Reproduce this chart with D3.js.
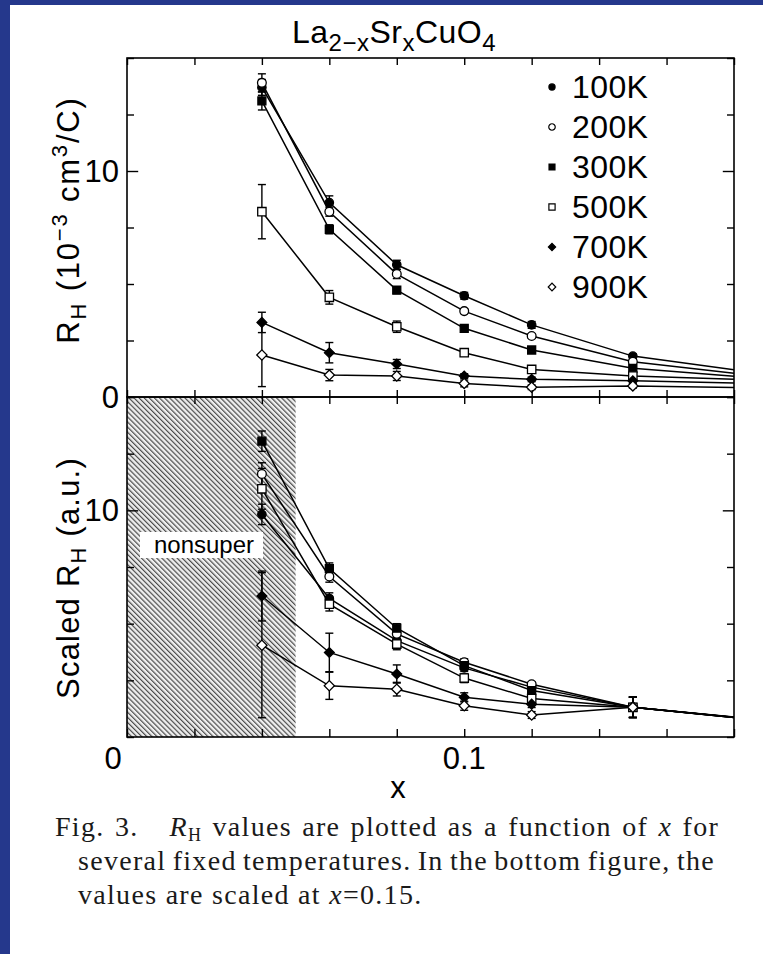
<!DOCTYPE html>
<html>
<head>
<meta charset="utf-8">
<script src="https://cdn.jsdelivr.net/npm/d3@7"></script>
<style>
  body { margin: 0; background: #fff; }
  svg { display: block; }
</style>
</head>
<body>
<script>
// temperatures and doping values
var temps = ["100K", "200K", "300K", "500K", "700K", "900K"];
var xValues = [0.04, 0.06, 0.08, 0.10, 0.12, 0.15, 0.18];

// top panel: R_H (1e-3 cm3/C)
var rh100 = [13.7, 8.6, 5.85, 4.48, 3.19, 1.81, 1.2];
var rh200 = [13.9, 8.2, 5.44, 3.8, 2.7, 1.56, 1.05];
var rh300 = [13.1, 7.42, 4.73, 3.04, 2.08, 1.27, 0.92];
var rh500 = [8.2, 4.41, 3.11, 1.96, 1.22, 0.93, 0.78];
var rh700 = [3.3, 1.96, 1.46, 0.93, 0.78, 0.72, 0.62];
var rh900 = [1.86, 0.97, 0.93, 0.6, 0.43, 0.49, 0.42];
var err100 = [0.35, 0.3, 0.2, 0.15, 0.15, 0.1, 0];
var err200 = [0.4, 0.2, 0.2, 0.1, 0.1, 0.1, 0];
var err300 = [0.4, 0.2, 0.15, 0.1, 0.1, 0.1, 0];
var err500 = [1.2, 0.3, 0.25, 0.15, 0.1, 0.1, 0];
var err700 = [0.45, 0.45, 0.2, 0.1, 0.1, 0.1, 0];
var err900 = [1.4, 0.25, 0.2, 0.15, 0.1, 0.1, 0];

// bottom panel: scaled R_H (a.u.)
var sc100 = [9.82, 6.11, 4.25, 3.05, 2.2, 1.31, 0.87];
var sc200 = [11.6, 7.08, 4.55, 3.3, 2.33, 1.31, 0.87];
var sc300 = [13.05, 7.43, 4.8, 3.15, 2.05, 1.31, 0.88];
var sc500 = [10.95, 5.86, 4.1, 2.6, 1.7, 1.31, 0.86];
var sc700 = [6.22, 3.73, 2.78, 1.75, 1.45, 1.31, 0.86];
var sc900 = [4.05, 2.26, 2.11, 1.38, 0.97, 1.31, 0.86];
var scErr100 = [0.45, 0.25, 0.2, 0.15, 0.1, 0.45, 0];
var scErr200 = [0.5, 0.25, 0.2, 0.15, 0.1, 0.45, 0];
var scErr300 = [0.45, 0.25, 0.2, 0.15, 0.1, 0.45, 0];
var scErr500 = [0.9, 0.3, 0.25, 0.2, 0.15, 0.45, 0];
var scErr700 = [1.1, 0.85, 0.4, 0.2, 0.15, 0.45, 0];
var scErr900 = [3.2, 0.6, 0.3, 0.2, 0.15, 0.45, 0];

var xTicks = [0, 0.02, 0.04, 0.06, 0.08, 0.1, 0.12, 0.14, 0.16, 0.18];
var yTicks = [0, 2.5, 5, 7.5, 10, 12.5, 15];
var nonsuperMax = 0.05;

var width = 763, height = 954;
var font = "'Liberation Sans', Arial, Helvetica, sans-serif";
var serif = "'Liberation Serif', 'Times New Roman', serif";

var svg = d3.select("body").append("svg")
  .attr("width", width)
  .attr("height", height);

// blue scan border
svg.append("rect").attr("width", width).attr("height", height).attr("fill", "#25388c");
svg.append("rect").attr("x", 10).attr("y", 5).attr("width", width - 10).attr("height", height - 5).attr("fill", "#fff");

var x = d3.scaleLinear().domain([0, 0.18]).range([127, 734]);
var yTop = d3.scaleLinear().domain([0, 15]).range([397, 58]);
var yBot = d3.scaleLinear().domain([0, 15]).range([737, 397]);

// hatch pattern for the nonsuperconducting region
var defs = svg.append("defs");
defs.append("pattern")
  .attr("id", "hatch")
  .attr("patternUnits", "userSpaceOnUse")
  .attr("width", 3.6).attr("height", 3.6)
  .attr("patternTransform", "rotate(-45)")
  .call(function(p) {
    p.append("rect").attr("width", 3.6).attr("height", 3.6).attr("fill", "#efefef");
    p.append("line").attr("x1", 0.6).attr("y1", 0).attr("x2", 0.6).attr("y2", 3.6)
      .attr("stroke", "#444").attr("stroke-width", 1.15);
  });
defs.append("clipPath").attr("id", "clipTop")
  .append("rect").attr("x", x(0)).attr("y", yTop(15)).attr("width", x(0.18) - x(0)).attr("height", yTop(0) - yTop(15));
defs.append("clipPath").attr("id", "clipBot")
  .append("rect").attr("x", x(0)).attr("y", yBot(15)).attr("width", x(0.18) - x(0)).attr("height", yBot(0) - yBot(15));

svg.append("rect")
  .attr("x", x(0)).attr("y", yBot(15))
  .attr("width", x(nonsuperMax) - x(0))
  .attr("height", yBot(0) - yBot(15))
  .attr("fill", "url(#hatch)");

// nonsuper label box
var nsG = svg.append("g");
nsG.append("rect").attr("x", 140).attr("y", 532).attr("width", 123).attr("height", 26).attr("fill", "#fff");
nsG.append("text").attr("x", 204).attr("y", 553).attr("text-anchor", "middle")
  .attr("font-family", font).attr("font-size", 24).text("nonsuper");

// marker shapes: diamonds are squares turned by 45 degrees
var symbols = [d3.symbolCircle, d3.symbolCircle, d3.symbolSquare, d3.symbolSquare, d3.symbolSquare, d3.symbolSquare];
var rotations = [0, 0, 0, 0, 45, 45];
var fills = ["#000", "#fff", "#000", "#fff", "#000", "#fff"];
var sizes = [55, 60, 64, 70, 48, 52];

function marker(i, scale) {
  return d3.symbol().type(symbols[i]).size(sizes[i] * scale)();
}

function buildSeries(vals, errs) {
  return temps.map(function(t, i) {
    return {
      temp: t, i: i,
      points: xValues.map(function(xv, j) { return { x: xv, y: vals[i][j], e: errs[i][j] }; })
    };
  });
}

var topSeries = buildSeries([rh100, rh200, rh300, rh500, rh700, rh900], [err100, err200, err300, err500, err700, err900]);
var botSeries = buildSeries([sc100, sc200, sc300, sc500, sc700, sc900], [scErr100, scErr200, scErr300, scErr500, scErr700, scErr900]);

function drawPanel(series, y, clipId) {
  var g = svg.append("g").attr("clip-path", "url(#" + clipId + ")");
  var line = d3.line().x(function(d) { return x(d.x); }).y(function(d) { return y(d.y); });

  g.selectAll(".series-line").data(series).enter().append("path")
    .attr("d", function(s) { return line(s.points); })
    .attr("fill", "none").attr("stroke", "#000").attr("stroke-width", 1.5);

  var pts = [];
  series.forEach(function(s) {
    s.points.forEach(function(p) { if (p.x < 0.18) pts.push({ s: s, p: p }); });
  });

  // error bars
  var eb = g.selectAll(".eb").data(pts.filter(function(d) { return d.p.e > 0; })).enter().append("g");
  eb.append("line")
    .attr("x1", function(d) { return x(d.p.x); }).attr("x2", function(d) { return x(d.p.x); })
    .attr("y1", function(d) { return y(d.p.y + d.p.e); }).attr("y2", function(d) { return y(d.p.y - d.p.e); })
    .attr("stroke", "#000").attr("stroke-width", 1.4);
  [1, -1].forEach(function(sg) {
    eb.append("line")
      .attr("x1", function(d) { return x(d.p.x) - 4; }).attr("x2", function(d) { return x(d.p.x) + 4; })
      .attr("y1", function(d) { return y(d.p.y + sg * d.p.e); }).attr("y2", function(d) { return y(d.p.y + sg * d.p.e); })
      .attr("stroke", "#000").attr("stroke-width", 1.4);
  });

  g.selectAll(".mk").data(pts).enter().append("path")
    .attr("transform", function(d) {
      return "translate(" + x(d.p.x) + "," + y(d.p.y) + ") rotate(" + rotations[d.s.i] + ")";
    })
    .attr("d", function(d) { return marker(d.s.i, 1); })
    .attr("fill", function(d) { return fills[d.s.i]; })
    .attr("stroke", "#000").attr("stroke-width", 1.3);
}

drawPanel(topSeries, yTop, "clipTop");
drawPanel(botSeries, yBot, "clipBot");

// axes and frames
function frame(y) {
  svg.append("rect")
    .attr("x", x(0)).attr("y", y(15))
    .attr("width", x(0.18) - x(0)).attr("height", y(0) - y(15))
    .attr("fill", "none").attr("stroke", "#000").attr("stroke-width", 1.6);

  var yl = svg.append("g").attr("transform", "translate(" + x(0) + ",0)")
    .call(d3.axisLeft(y).tickValues(yTicks).tickSize(-7).tickFormat(""));
  var yr = svg.append("g").attr("transform", "translate(" + x(0.18) + ",0)")
    .call(d3.axisRight(y).tickValues(yTicks).tickSize(-7).tickFormat(""));
  [yl, yr].forEach(function(a) {
    a.select(".domain").remove();
    a.selectAll(".tick line").attr("stroke-width", 1.4)
      .filter(function(d) { return d === 10; })
      .attr("x2", function() { return +d3.select(this).attr("x2") * 1.6; });
  });
}
frame(yTop);
frame(yBot);

function xAxis(gen, yPos, size) {
  var a = svg.append("g").attr("transform", "translate(0," + yPos + ")")
    .call(gen(x).tickValues(xTicks).tickSize(size).tickFormat(""));
  a.select(".domain").remove();
  a.selectAll(".tick line").attr("stroke-width", 1.4);
}
xAxis(d3.axisTop, yTop(15), -7);
xAxis(d3.axisTop, yTop(0), 7);
xAxis(d3.axisBottom, yTop(0), 7);
xAxis(d3.axisBottom, yBot(0), -8);

// tick labels
var lab = svg.append("g").attr("font-family", font).attr("font-size", 31).attr("fill", "#000");
lab.append("text").attr("x", x(0) - 8).attr("y", yTop(10) + 11).attr("text-anchor", "end").text("10");
lab.append("text").attr("x", x(0) - 8).attr("y", yTop(0) + 11).attr("text-anchor", "end").text("0");
lab.append("text").attr("x", x(0) - 8).attr("y", yBot(10) + 11).attr("text-anchor", "end").text("10");
lab.append("text").attr("x", x(0) - 14).attr("y", 769).attr("text-anchor", "middle").text("0");
lab.append("text").attr("x", x(0.1)).attr("y", 769).attr("text-anchor", "middle").text("0.1");
lab.append("text").attr("x", 398).attr("y", 798).attr("text-anchor", "middle").text("x");

// title
var title = svg.append("text").attr("x", 394).attr("y", 43).attr("text-anchor", "middle")
  .attr("font-family", font).attr("font-size", 32).attr("letter-spacing", 0.5);
title.append("tspan").text("La");
title.append("tspan").attr("font-size", 24).attr("dy", 8).text("2\u2212x");
title.append("tspan").attr("dy", -8).text("Sr");
title.append("tspan").attr("font-size", 24).attr("dy", 8).text("x");
title.append("tspan").attr("dy", -8).text("CuO");
title.append("tspan").attr("font-size", 24).attr("dy", 8).text("4");

// y axis titles
var yt1 = svg.append("text").attr("transform", "translate(79,220) rotate(-90)")
  .attr("text-anchor", "middle").attr("font-family", font).attr("font-size", 31)
  .attr("letter-spacing", 1.8);
yt1.append("tspan").text("R");
yt1.append("tspan").attr("font-size", 22).attr("dy", 7).text("H");
yt1.append("tspan").attr("dy", -7).text(" (10");
yt1.append("tspan").attr("font-size", 22).attr("dy", -12).text("\u22123");
yt1.append("tspan").attr("dy", 12).text(" cm");
yt1.append("tspan").attr("font-size", 22).attr("dy", -12).text("3");
yt1.append("tspan").attr("dy", 12).text("/C)");

var yt2 = svg.append("text").attr("transform", "translate(79,578) rotate(-90)")
  .attr("text-anchor", "middle").attr("font-family", font).attr("font-size", 31)
  .attr("letter-spacing", 1.2);
yt2.append("tspan").text("Scaled R");
yt2.append("tspan").attr("font-size", 22).attr("dy", 7).text("H");
yt2.append("tspan").attr("dy", -7).text(" (a.u.)");

// legend
var leg = svg.append("g").attr("transform", "translate(552,87)");
var li = leg.selectAll("g").data(temps).enter().append("g")
  .attr("transform", function(d, i) { return "translate(0," + i * 40 + ")"; });
li.append("path")
  .attr("transform", function(d, i) { return "rotate(" + rotations[i] + ")"; })
  .attr("d", function(d, i) { return marker(i, 0.55); })
  .attr("fill", function(d, i) { return fills[i]; })
  .attr("stroke", "#000").attr("stroke-width", 1.2);
li.append("text").attr("x", 20).attr("y", 11)
  .attr("font-family", font).attr("font-size", 32).attr("letter-spacing", 0.4)
  .text(function(d) { return d; });

// caption
var cap = svg.append("g").attr("font-family", serif).attr("font-size", 28)
  .attr("letter-spacing", 1.3).attr("fill", "#1a1a1a");
var c1 = cap.append("text").attr("x", 55).attr("y", 836);
c1.append("tspan").text("Fig. 3.\u00a0\u00a0 ");
c1.append("tspan").attr("font-style", "italic").text("R");
c1.append("tspan").attr("font-size", 18).attr("dy", 5).text("H");
c1.append("tspan").attr("dy", -5).text(" values are plotted as a function of ");
c1.append("tspan").attr("font-style", "italic").text("x");
c1.append("tspan").text(" for");
var c2 = cap.append("text").attr("x", 78).attr("y", 870)
  .text("several fixed temperatures. In the bottom figure, the");
var c3 = cap.append("text").attr("x", 78).attr("y", 904);
c3.append("tspan").text("values are scaled at ");
c3.append("tspan").attr("font-style", "italic").text("x");
c3.append("tspan").text("=0.15.");

// justify the first two caption lines to the right margin
[[c1, 715], [c2, 715]].forEach(function(pair) {
  var t = pair[0], start = +t.attr("x");
  var len = t.node().getComputedTextLength();
  var spaces = (t.text().match(/ /g) || []).length;
  if (spaces) t.attr("word-spacing", (pair[1] - start - len) / spaces);
});
</script>
</body>
</html>
